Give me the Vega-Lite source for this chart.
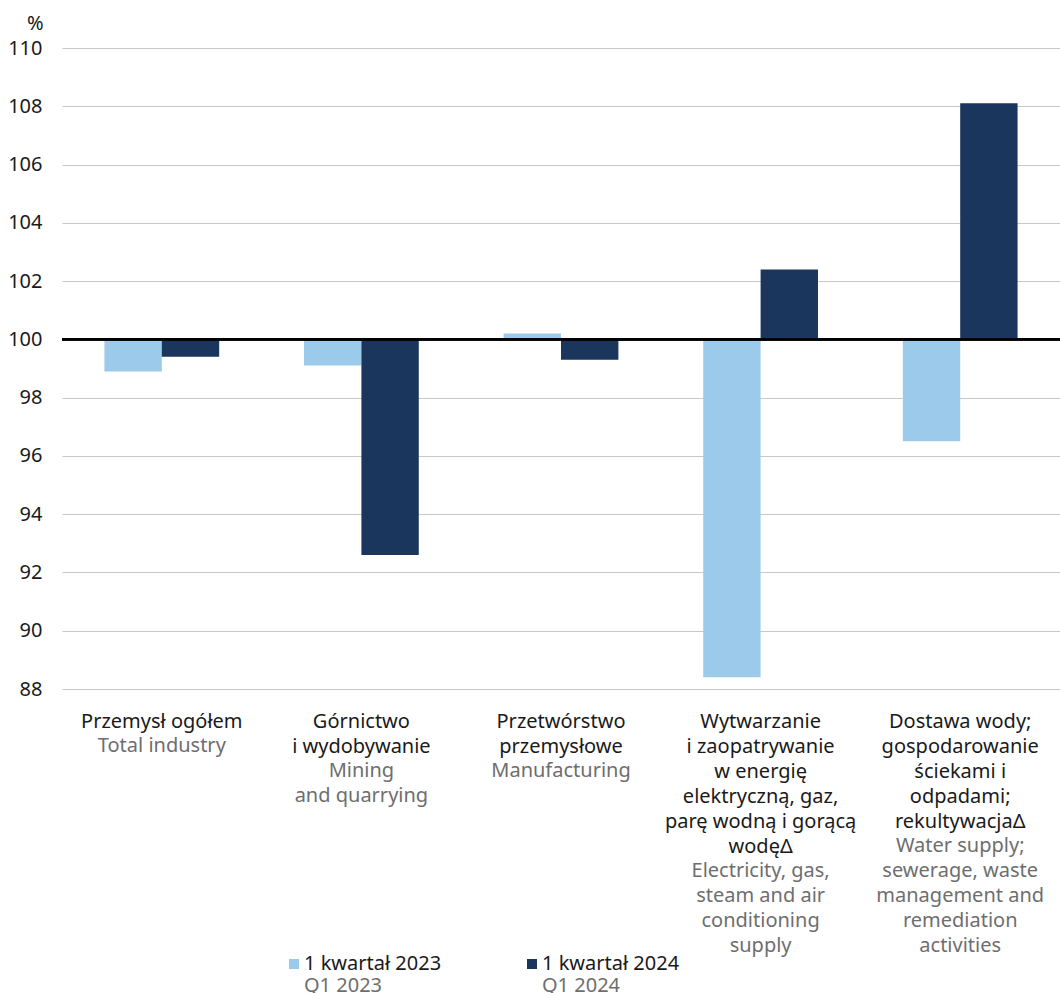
{
  "$schema": "https://vega.github.io/schema/vega-lite/v6.json",
  "width": 998,
  "height": 641,
  "autosize": {"type": "none"},
  "padding": {"left": 62, "top": 48, "right": 0, "bottom": 304},
  "background": "white",
  "config": {
    "font": "Noto Sans",
    "view": {"stroke": null},
    "axis": {"labelFont": "Noto Sans", "titleFont": "Noto Sans"},
    "legend": {"labelFont": "Noto Sans"}
  },
  "data": {
    "values": [
      {"key": "Przemysł ogółem#Total industry", "series": "1 kwartał 2023", "seriesEn": "Q1 2023", "value": 98.9},
      {"key": "Przemysł ogółem#Total industry", "series": "1 kwartał 2024", "seriesEn": "Q1 2024", "value": 99.4},
      {"key": "Górnictwo|i wydobywanie#Mining|and quarrying", "series": "1 kwartał 2023", "seriesEn": "Q1 2023", "value": 99.1},
      {"key": "Górnictwo|i wydobywanie#Mining|and quarrying", "series": "1 kwartał 2024", "seriesEn": "Q1 2024", "value": 92.6},
      {"key": "Przetwórstwo|przemysłowe#Manufacturing", "series": "1 kwartał 2023", "seriesEn": "Q1 2023", "value": 100.2},
      {"key": "Przetwórstwo|przemysłowe#Manufacturing", "series": "1 kwartał 2024", "seriesEn": "Q1 2024", "value": 99.3},
      {"key": "Wytwarzanie|i zaopatrywanie|w energię|elektryczną, gaz,|parę wodną i gorącą|wodęΔ#Electricity, gas,|steam and air|conditioning|supply", "series": "1 kwartał 2023", "seriesEn": "Q1 2023", "value": 88.4},
      {"key": "Wytwarzanie|i zaopatrywanie|w energię|elektryczną, gaz,|parę wodną i gorącą|wodęΔ#Electricity, gas,|steam and air|conditioning|supply", "series": "1 kwartał 2024", "seriesEn": "Q1 2024", "value": 102.4},
      {"key": "Dostawa wody;|gospodarowanie|ściekami i|odpadami;|rekultywacjaΔ#Water supply;|sewerage, waste|management and|remediation|activities", "series": "1 kwartał 2023", "seriesEn": "Q1 2023", "value": 96.5},
      {"key": "Dostawa wody;|gospodarowanie|ściekami i|odpadami;|rekultywacjaΔ#Water supply;|sewerage, waste|management and|remediation|activities", "series": "1 kwartał 2024", "seriesEn": "Q1 2024", "value": 108.1}
    ]
  },
  "layer": [
    {
      "mark": {"type": "bar"},
      "encoding": {
        "x": {
          "field": "key", "type": "nominal", "sort": null,
          "scale": {"paddingInner": 0.425, "paddingOuter": 0.2125},
          "axis": {
            "orient": "bottom", "title": null, "domain": false, "ticks": false, "tickSize": 0, "grid": false,
            "labelAngle": 0, "labelAlign": "center", "labelBaseline": "top", "labelPadding": 22,
            "labelFontSize": 20, "labelLineHeight": 25, "labelColor": "#1a1a1a",
            "labelOverlap": false, "labelLimit": 400, "labelBound": false, "labelFlush": false,
            "labelExpr": "split(split(datum.value,'#')[0],'|')"
          }
        },
        "xOffset": {"field": "series", "type": "nominal", "sort": null, "scale": {"paddingInner": 0, "paddingOuter": 0}},
        "y": {
          "field": "value", "type": "quantitative",
          "scale": {"domain": [88, 110], "nice": false, "zero": false},
          "axis": {
            "title": "%", "titleAngle": 0, "titleAlign": "right", "titleBaseline": "alphabetic",
            "titleX": -19, "titleY": -19, "titleFontSize": 20, "titleFontWeight": "normal", "titleColor": "#1a1a1a",
            "values": [88, 90, 92, 94, 96, 98, 100, 102, 104, 106, 108, 110],
            "domain": false, "ticks": false, "tickSize": 0, "labelPadding": 20,
            "labelFontSize": 20, "labelColor": "#1a1a1a",
            "grid": true, "gridColor": "#c8c8c8", "gridWidth": 1.2
          }
        },
        "y2": {"datum": 100},
        "color": {
          "field": "series", "type": "nominal", "sort": null,
          "scale": {"range": ["#9BCAEA", "#1A365D"]},
          "legend": {
            "title": null, "orient": "none", "direction": "horizontal", "legendX": 222, "legendY": 906,
            "symbolType": "square", "symbolSize": 100, "symbolStrokeWidth": 0, "symbolOpacity": 1,
            "labelFontSize": 20, "labelColor": "#1a1a1a", "labelOffset": 0, "columnPadding": 80, "padding": 0,
            "labelLimit": 400
          }
        },
        "opacity": {
          "field": "seriesEn", "type": "nominal", "sort": null,
          "scale": {"range": [1, 1]},
          "legend": {
            "title": null, "orient": "none", "direction": "horizontal", "legendX": 222, "legendY": 928,
            "symbolType": "square", "symbolSize": 100, "symbolStrokeWidth": 0, "symbolFillColor": "transparent",
            "labelFontSize": 20, "labelColor": "#6e6e6e", "labelOffset": 0, "columnPadding": 139, "padding": 0,
            "labelLimit": 400
          }
        }
      }
    },
    {
      "mark": {"type": "rule", "color": "#000000", "strokeWidth": 2},
      "encoding": {"y": {"datum": 100, "type": "quantitative"}}
    },
    {
      "transform": [{"filter": "datum.series == '1 kwartał 2023'"}],
      "mark": {
        "type": "text", "align": "center", "baseline": "top", "fontSize": 20, "lineHeight": 25,
        "color": "#6e6e6e", "font": "Noto Sans",
        "text": {"expr": "split(split(datum.key,'#')[1],'|')"},
        "dy": {"expr": "22 + 25*length(split(split(datum.key,'#')[0],'|'))"}
      },
      "encoding": {
        "x": {"field": "key", "type": "nominal", "sort": null},
        "y": {"datum": 88, "type": "quantitative"}
      }
    }
  ]
}
